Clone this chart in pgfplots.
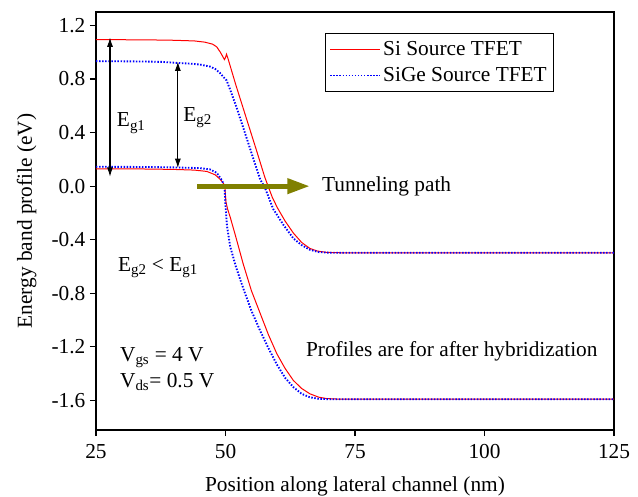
\documentclass[border=0pt]{standalone}
\usepackage{pgfplots}
\pgfplotsset{compat=1.18}
\usepackage{fontspec}
\setmainfont{Liberation Serif}
\usetikzlibrary{arrows.meta}
\definecolor{pathcol}{RGB}{128,128,0}

% Si source TFET: conduction and valence band edges
\pgfplotstableread{
x y
25 1.093
30 1.093
35 1.092
40 1.089
44 1.084
46 1.075
47.5 1.060
48.3 1.040
49.0 1.000
49.8 0.945
50.0 0.960
50.2 0.985
50.5 0.950
52 0.755
54 0.510
56 0.265
57.6 0.065
59 -0.080
60 -0.160
61.5 -0.260
63.1 -0.350
64.7 -0.420
66.3 -0.465
67.8 -0.485
69.5 -0.494
72 -0.497
125 -0.497
}\siCB
\pgfplotstableread{
x y
25 0.130
35 0.128
40 0.125
44 0.120
46.4 0.110
48 0.085
49 0.050
49.6 0.020
49.9 -0.020
50.1 -0.120
50.4 -0.170
50.9 -0.230
52 -0.380
53.4 -0.578
55 -0.780
56.7 -0.950
58.3 -1.110
59.9 -1.250
61.5 -1.360
63.1 -1.450
64.7 -1.510
66.3 -1.550
68 -1.575
69.5 -1.585
72 -1.590
125 -1.590
}\siVB
% SiGe source TFET: conduction and valence band edges
\pgfplotstableread{
x y
25 0.933
30 0.932
35 0.930
38 0.927
40.6 0.920
43 0.915
45 0.908
47 0.893
48 0.875
48.9 0.846
49.6 0.815
50.2 0.790
51 0.710
52.2 0.580
53.4 0.440
55.5 0.190
56.7 0.050
57.6 -0.010
59.2 -0.170
61.2 -0.290
63.1 -0.390
64.7 -0.440
66.3 -0.475
68 -0.492
70 -0.497
125 -0.497
}\sigeCB
\pgfplotstableread{
x y
25 0.145
35 0.143
40 0.140
45 0.135
47 0.125
48.3 0.100
49.3 0.045
49.8 0.000
50.0 -0.150
50.3 -0.300
50.9 -0.450
52 -0.600
53.4 -0.760
55 -0.930
56.7 -1.080
58.3 -1.210
59.9 -1.330
61.5 -1.430
63.1 -1.500
64.7 -1.550
66.3 -1.576
68 -1.587
70 -1.590
125 -1.590
}\sigeVB

\begin{document}
\begin{tikzpicture}
\begin{axis}[
  scale only axis, width=388.5pt, height=313.5pt,
  xmin=25, xmax=125, ymin=-1.82, ymax=1.30,
  xtick={25,50,75,100,125},
  ytick={-1.6,-1.2,-0.8,-0.4,0,0.4,0.8,1.2},
  yticklabel style={/pgf/number format/.cd, fixed, fixed zerofill, precision=1},
  xticklabel style={yshift=-3pt},
  /pgf/number format/assume math mode=true,
  tick align=outside, tick pos=left, major tick length=4.5pt,
  axis line style={line width=0.8pt}, tick style={line width=0.8pt, black},
  font=\fontsize{16}{19}\selectfont,
  xlabel={Position along lateral channel (nm)},
  ylabel={Energy band profile (eV)},
  xlabel style={yshift=-6pt},
  ylabel style={yshift=4.5pt},
  legend style={at={(0.442,0.950)}, anchor=north west, draw=black,
    line width=0.6pt, font=\fontsize{16}{19}\selectfont, inner xsep=3pt,
    inner ysep=4pt, row sep=3.5pt},
  legend cell align=left,
  legend image code/.code={\draw[#1] (0pt,0pt) -- (37pt,0pt);},
]
\addplot[red, line width=0.75pt] table {\siCB};
\addlegendentry{Si Source TFET}
\addplot[blue, line width=1.4pt, dash pattern=on 1.1pt off 1.2pt] table {\sigeCB};
\addlegendentry{SiGe Source TFET}
\addplot[red, line width=0.75pt, forget plot] table {\siVB};
\addplot[blue, line width=1.4pt, dash pattern=on 1.1pt off 1.2pt, forget plot] table {\sigeVB};

% band gap arrows
\draw[{Latex[length=7pt,width=4.5pt]}-{Latex[length=7pt,width=4.5pt]}, line width=0.8pt]
  (axis cs:27.7,1.11) -- (axis cs:27.7,0.07);
\draw[{Latex[length=7pt,width=4.5pt]}-{Latex[length=7pt,width=4.5pt]}, line width=0.8pt]
  (axis cs:40.8,0.93) -- (axis cs:40.8,0.135);
\node[anchor=west, inner sep=0pt] at (axis cs:29.0,0.47) {E\textsubscript{g1}};
\node[anchor=west, inner sep=0pt] at (axis cs:41.8,0.51) {E\textsubscript{g2}};

% tunneling path
\draw[pathcol, line width=3.75pt, -{Triangle[length=17pt,width=11pt]}]
  (axis cs:44.5,0) -- (axis cs:66.3,0);
\node[anchor=west, inner sep=0pt] at (axis cs:68.6,0.0) {Tunneling path};

\node[anchor=west, inner sep=0pt] at (axis cs:29.2,-0.61) {E\textsubscript{g2} < E\textsubscript{g1}};
\node[anchor=west, inner sep=0pt] at (axis cs:29.6,-1.28) {V\textsubscript{gs} = 4 V};
\node[anchor=west, inner sep=0pt] at (axis cs:29.6,-1.46) {V\textsubscript{ds}= 0.5 V};
\node[anchor=west, inner sep=0pt] at (axis cs:65.5,-1.23) {Profiles are for after hybridization};
\end{axis}
\pgfresetboundingbox
\useasboundingbox ([xshift=-72pt,yshift=-49.5pt]current axis.south west)
  rectangle ([xshift=18pt,yshift=9pt]current axis.north east);
\end{tikzpicture}
\end{document}
